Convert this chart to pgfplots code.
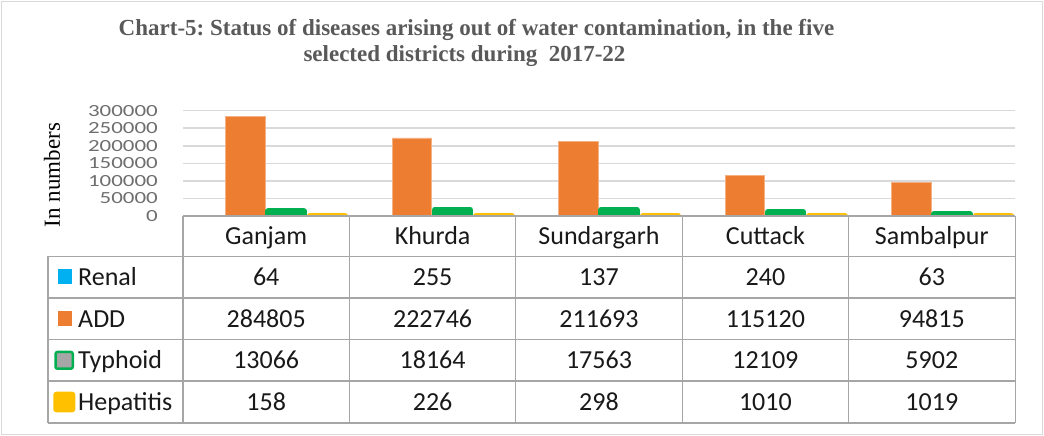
\documentclass[border=0pt]{standalone}
\usepackage{pgfplots}
\pgfplotsset{compat=1.18}
\usepackage{fontspec}
\setmainfont{Liberation Serif}
\newfontfamily\calfont{Carlito}
\usepackage{graphicx}
\definecolor{renal}{HTML}{00B0F0}
\definecolor{add}{HTML}{ED7D31}
\definecolor{typh}{HTML}{00B050}
\definecolor{hep}{HTML}{FFC000}
\definecolor{gridgrey}{HTML}{D9D9D9}
\definecolor{titlegrey}{HTML}{595959}
\definecolor{tickgrey}{HTML}{6E6E6E}
\definecolor{tabgrey}{HTML}{A6A6A6}
\definecolor{framegrey}{HTML}{D9D9D9}
\newcommand\sx[1]{\scalebox{1.35}[1]{#1}}
\frenchspacing
\begin{document}
\begin{tikzpicture}[x=1pt,y=1pt]
\useasboundingbox (0,0) rectangle (1044,436);
\draw[framegrey, line width=1.5pt] (1.5,1.5) rectangle (1042.5,434.5);
% title
\node[anchor=base, font=\fontsize{23}{27}\selectfont\bfseries, text=titlegrey] at (476.5,400) {Chart-5: Status of diseases arising out of water contamination, in the five};
\node[anchor=base, font=\fontsize{23}{27}\selectfont\bfseries, text=titlegrey] at (464.5,374) {selected districts during\ \ 2017-22};
% y label
\node[rotate=90, anchor=center, inner sep=0pt, font=\fontsize{23}{27}\selectfont] at (52pt,261pt) {In numbers};
\begin{axis}[
  at={(183pt,220pt)}, anchor=south west,
  scale only axis, width=832.4pt, height=105.3pt,
  xmin=-0.5, xmax=4.5, ymin=0, ymax=300000,
  xtick=\empty,
  ytick={0,50000,100000,150000,200000,250000,300000},
  yticklabels={\sx{0},\sx{50000},\sx{100000},\sx{150000},\sx{200000},\sx{250000},\sx{300000}},
  scaled y ticks=false,
  yticklabel style={font=\calfont\fontsize{17}{17}\selectfont, text=tickgrey, inner sep=0pt, anchor=east, xshift=-25pt},
  major tick length=0pt,
  ymajorgrids, grid style={draw=gridgrey, line width=1.5pt},
  axis line style={draw=none},
  ybar,
]
\addplot[fill=renal, draw=none, bar width=0.236, bar shift=-0.375] coordinates {(0,64) (1,255) (2,137) (3,240) (4,63)};
\addplot[fill=add, draw=add!60!white, line width=0.6pt, bar width=0.236, bar shift=-0.125] coordinates {(0,284805) (1,222746) (2,211693) (3,115120) (4,94815)};
\addplot[fill=typh, draw=typh, line width=6pt, line join=round, bar width=0.214, bar shift=0.119] coordinates {(0,13066) (1,18164) (2,17563) (3,12109) (4,5902)};
\addplot[fill=hep, draw=hep, line width=6pt, line join=round, bar width=0.214, bar shift=0.368] coordinates {(0,158) (1,226) (2,298) (3,1010) (4,1019)};
\end{axis}
% table
\begin{scope}[tabgrey, line width=1.2pt]
\draw (183,220) -- (1015.4,220);
\foreach \y in {179.5,138,96.5,55,13} \draw (48,\y) -- (1015.4,\y);
\draw (48,179.5) -- (48,13);
\foreach \x in {183,349.4,515.8,682.2,848.6,1015.4} \draw (\x,220) -- (\x,13);
\end{scope}
\begin{scope}[font=\calfont\fontsize{26}{26}\selectfont, text=black!90]
\foreach \n [count=\i from 0] in {Ganjam,Khurda,Sundargarh,Cuttack,Sambalpur}
  \node[anchor=base] at (266.2+166.4*\i,191.5) {\n};
\foreach \a/\b/\c/\d/\e [count=\r from 0] in {64/255/137/240/63, 284805/222746/211693/115120/94815, 13066/18164/17563/12109/5902, 158/226/298/1010/1019}{
  \pgfmathsetmacro\yy{150-41.5*\r}
  \node[anchor=base] at (266.2,\yy) {\a};
  \node[anchor=base] at (432.6,\yy) {\b};
  \node[anchor=base] at (599.0,\yy) {\c};
  \node[anchor=base] at (765.4,\yy) {\d};
  \node[anchor=base] at (931.8,\yy) {\e};
}
\node[anchor=base west, inner sep=0pt] at (78,150) {Renal};
\node[anchor=base west, inner sep=0pt] at (78,108.5) {ADD};
\node[anchor=base west, inner sep=0pt] at (78,67) {Typhoid};
\node[anchor=base west, inner sep=0pt] at (78,25.5) {Hepatitis};
\end{scope}
% legend keys
\fill[renal] (57.7,152) rectangle (71.7,167);
\fill[add] (57.7,110) rectangle (71.7,125.3);
\draw[typh, line width=2.5pt, fill=gray!70, rounded corners=2pt] (55.5,67.3) rectangle (72.8,84);
\fill[hep, rounded corners=3pt] (53.3,23.7) rectangle (75.3,44.3);
\end{tikzpicture}
\end{document}
